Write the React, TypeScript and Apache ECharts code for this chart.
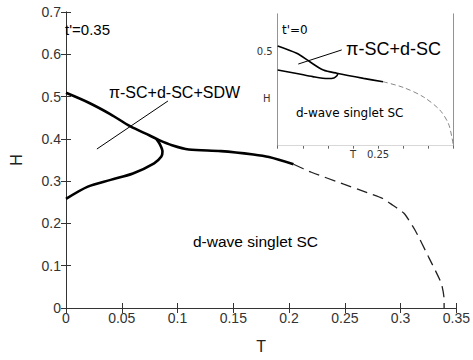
import React, { useEffect, useRef } from "react";
import * as echarts from "echarts";

// Main panel (t' = 0.35)
const mainTicksT = [0, 0.05, 0.1, 0.15, 0.2, 0.25, 0.3, 0.35];
const mainUpper: [number, number][] = [
  [0, 0.509], [0.02, 0.486], [0.04, 0.458], [0.0574, 0.43], [0.075, 0.408],
  [0.0835, 0.397], [0.095, 0.385], [0.11, 0.375], [0.139, 0.371],
  [0.168, 0.363], [0.182, 0.357], [0.204, 0.34],
];
const mainLower: [number, number][] = [
  [0, 0.258], [0.0196, 0.287], [0.04, 0.303], [0.06, 0.318], [0.079, 0.342],
  [0.0855, 0.358], [0.0865, 0.37], [0.084, 0.388], [0.081, 0.4],
];
const mainDashed: [number, number][] = [
  [0.204, 0.34], [0.22, 0.321], [0.249, 0.293], [0.27, 0.273], [0.284, 0.259],
  [0.293, 0.243], [0.303, 0.224], [0.313, 0.184], [0.325, 0.121],
  [0.3365, 0.058], [0.339, 0.02], [0.339, 0],
];
const mainPointer: [number, number][] = [[0.0277, 0.376], [0.0914, 0.4895]];

// Inset panel (t' = 0)
const insetUpper: [number, number][] = [
  [0.05, 0.53], [0.0879, 0.491], [0.114, 0.446], [0.141, 0.402], [0.168, 0.385],
  [0.221, 0.358], [0.26, 0.34],
];
const insetLower: [number, number][] = [
  [0.05, 0.402], [0.088, 0.384], [0.12, 0.367], [0.15, 0.357], [0.162, 0.36],
  [0.168, 0.372], [0.17, 0.384],
];
const insetDashed: [number, number][] = [
  [0.26, 0.34], [0.3, 0.31], [0.34, 0.26], [0.373, 0.19], [0.39, 0.119],
  [0.397, 0.048], [0.4, 0],
];
const insetPointer: [number, number][] = [[0.091, 0.434], [0.1776, 0.509]];

const MAIN_FONT = "'Liberation Sans', Arial, sans-serif";
const INSET_FONT = "'DejaVu Sans', sans-serif";

export default function App() {
  const ref = useRef<HTMLDivElement>(null);
  useEffect(() => {
    if (!ref.current) return;
    const chart = echarts.init(ref.current, null, { renderer: "svg" });
    const axisLine = { show: true, lineStyle: { color: "#333", width: 1 } };
    const insetLine = { show: true, lineStyle: { color: "#666", width: 1 } };
    const tickIn = { show: true, inside: true, length: 5, lineStyle: { color: "#333" } };
    const tickInSmall = { show: true, inside: true, length: 3, lineStyle: { color: "#666" } };
    const near = (a: number, b: number) => Math.abs(a - b) < 1e-6;

    chart.setOption({
      animation: false,
      backgroundColor: "#fff",
      grid: [
        { left: 57.5, top: 12, width: 401.5, height: 296 },
        { left: 277.7, top: 14, width: 175.6, height: 131.7, show: true, backgroundColor: "#fff", borderWidth: 0, z: 5 },
      ],
      xAxis: [
        {
          gridIndex: 0, type: "value", min: 0, max: 0.35, interval: 0.05, position: "bottom",
          axisLine, axisTick: tickIn, splitLine: { show: false },
          axisLabel: { color: "#333", fontSize: 14, fontFamily: MAIN_FONT, margin: 3,
            formatter: (v: number) => String(mainTicksT.find((t) => near(t, v)) ?? v) },
          name: "T", nameLocation: "middle", nameGap: 30,
          nameTextStyle: { color: "#222", fontSize: 16, fontFamily: MAIN_FONT },
        },
        {
          gridIndex: 0, type: "value", min: 0, max: 0.35, interval: 0.05, position: "top",
          axisLine, axisTick: tickIn, axisLabel: { show: false }, splitLine: { show: false },
        },
        {
          gridIndex: 1, type: "value", min: 0.05, max: 0.4, interval: 0.05, position: "bottom",
          axisLine: insetLine, axisTick: tickInSmall, splitLine: { show: false },
          axisLabel: { color: "#333", fontSize: 10, fontFamily: INSET_FONT, margin: 4,
            formatter: (v: number) => (near(v, 0.25) ? "0.25" : near(v, 0.2) ? "T" : "") },
        },
        {
          gridIndex: 1, type: "value", min: 0.05, max: 0.4, interval: 0.05, position: "top",
          axisLine: insetLine, axisTick: tickInSmall, axisLabel: { show: false }, splitLine: { show: false },
        },
      ],
      yAxis: [
        {
          gridIndex: 0, type: "value", min: 0, max: 0.7, interval: 0.1, position: "left",
          axisLine, axisTick: tickIn, splitLine: { show: false },
          axisLabel: { color: "#333", fontSize: 14, fontFamily: MAIN_FONT, margin: 5 },
          name: "H", nameLocation: "middle", nameGap: 42, nameRotate: 90,
          nameTextStyle: { color: "#222", fontSize: 16, fontFamily: MAIN_FONT },
        },
        {
          gridIndex: 0, type: "value", min: 0, max: 0.7, interval: 0.1, position: "right",
          axisLine, axisTick: tickIn, axisLabel: { show: false }, splitLine: { show: false },
        },
        {
          gridIndex: 1, type: "value", min: 0, max: 0.7, interval: 0.1, position: "left",
          axisLine: insetLine, axisTick: tickInSmall, splitLine: { show: false },
          axisLabel: { color: "#333", fontSize: 10, fontFamily: INSET_FONT, margin: 5,
            formatter: (v: number) => (near(v, 0.5) ? "0.5" : "") },
        },
        {
          gridIndex: 1, type: "value", min: 0, max: 0.7, interval: 0.1, position: "right",
          axisLine: insetLine, axisTick: tickInSmall, axisLabel: { show: false }, splitLine: { show: false },
        },
      ],
      series: [
        { type: "line", xAxisIndex: 0, yAxisIndex: 0, data: mainUpper, showSymbol: false, smooth: 0.3,
          lineStyle: { color: "#000", width: 2.6 } },
        { type: "line", xAxisIndex: 0, yAxisIndex: 0, data: mainLower, showSymbol: false, smooth: 0.3,
          lineStyle: { color: "#000", width: 2.6 } },
        { type: "line", xAxisIndex: 0, yAxisIndex: 0, data: mainDashed, showSymbol: false, smooth: 0.2,
          lineStyle: { color: "#222", width: 1.3, type: [11, 6] } },
        { type: "line", xAxisIndex: 0, yAxisIndex: 0, data: mainPointer, showSymbol: false,
          lineStyle: { color: "#000", width: 1 } },
        { type: "line", xAxisIndex: 2, yAxisIndex: 2, data: insetUpper, showSymbol: false, smooth: 0.3, z: 6,
          lineStyle: { color: "#000", width: 1.6 } },
        { type: "line", xAxisIndex: 2, yAxisIndex: 2, data: insetLower, showSymbol: false, smooth: 0.3, z: 6,
          lineStyle: { color: "#000", width: 1.6 } },
        { type: "line", xAxisIndex: 2, yAxisIndex: 2, data: insetDashed, showSymbol: false, smooth: 0.3, z: 6,
          lineStyle: { color: "#888", width: 1, type: [5, 3] } },
        { type: "line", xAxisIndex: 2, yAxisIndex: 2, data: insetPointer, showSymbol: false, z: 6,
          lineStyle: { color: "#000", width: 1 } },
      ],
      graphic: [
        { type: "text", left: 65, top: 22, z: 10,
          style: { text: "t'=0.35", fontSize: 15, fontFamily: MAIN_FONT, fill: "#000" } },
        { type: "text", left: 109, top: 84, z: 10,
          style: { text: "π-SC+d-SC+SDW", fontSize: 16, fontFamily: MAIN_FONT, fill: "#000" } },
        { type: "text", left: 193, top: 233, z: 10,
          style: { text: "d-wave singlet SC", fontSize: 15.5, fontFamily: MAIN_FONT, fill: "#000" } },
        { type: "text", left: 282, top: 24, z: 10,
          style: { text: "t'=0", fontSize: 12, fontFamily: INSET_FONT, fill: "#000" } },
        { type: "text", left: 346, top: 40, z: 10,
          style: { text: "π-SC+d-SC", fontSize: 18, fontFamily: MAIN_FONT, fill: "#000" } },
        { type: "text", left: 296, top: 107, z: 10,
          style: { text: "d-wave singlet SC", fontSize: 12, fontFamily: INSET_FONT, fill: "#000" } },
        { type: "text", left: 263, top: 93, z: 10,
          style: { text: "H", fontSize: 10, fontFamily: INSET_FONT, fill: "#333" } },
      ],
    });
    return () => chart.dispose();
  }, []);
  return (
    <div
      ref={ref}
      style={{ position: "fixed", left: 0, top: 0, width: 473, height: 360 }}
    />
  );
}
